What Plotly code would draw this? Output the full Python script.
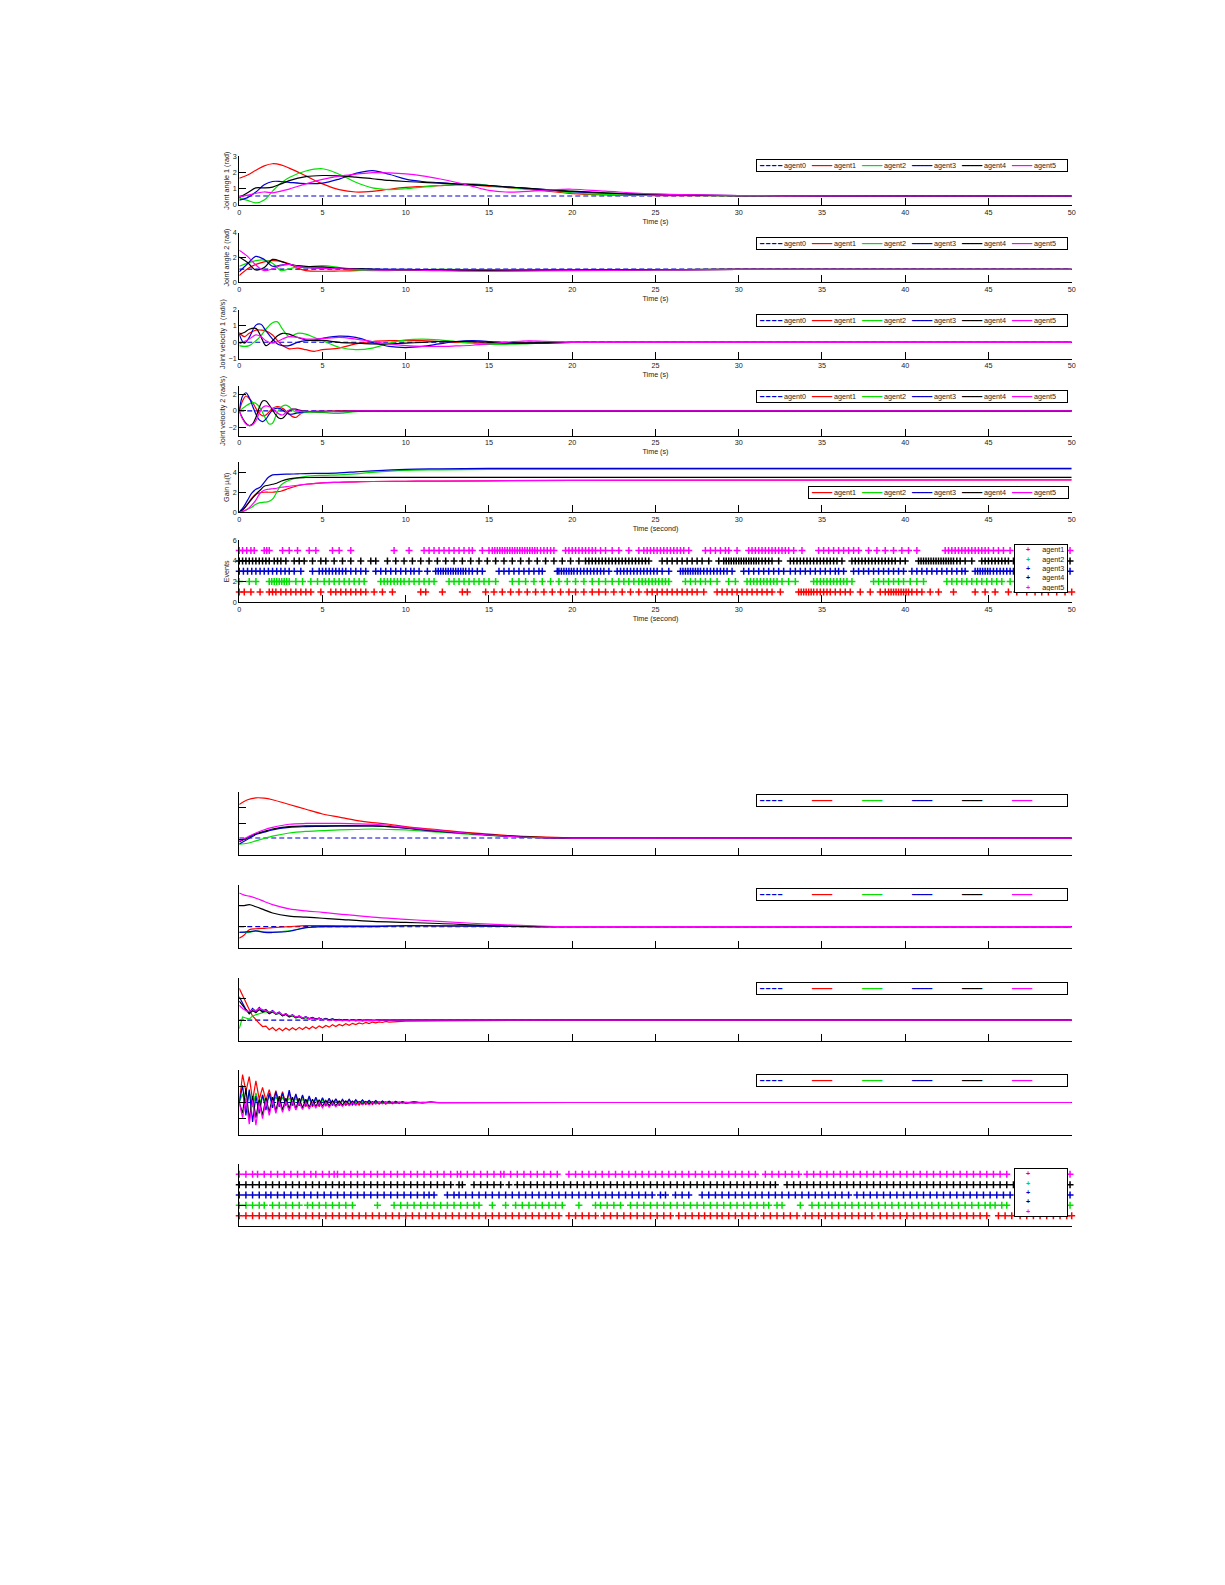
import plotly.graph_objects as go

# browser body margin is 8 px, so the figure is shrunk by that on every side
OFF = 8
W, H = 1225 - 2 * OFF, 1585 - 2 * OFF

agents = ['agent0', 'agent1', 'agent2', 'agent3', 'agent4', 'agent5']
colors = ['#0000d0', '#ff0000', '#00e000', '#0000d0', '#000000', '#ff00ff']

# ---------------- first figure block ----------------
# joint angle 1
ja1_t = [0, 0.5, 1, 1.5, 2, 2.5, 3, 4, 5, 6, 7, 8, 9, 10, 11, 12, 13, 14, 15, 16, 17, 18, 19, 20, 22, 25, 30, 35, 40, 45, 50]
ja1_a0 = 0.55
ja1_a1 = [1.65, 1.85, 2.15, 2.42, 2.55, 2.48, 2.28, 1.8, 1.3, 0.95, 0.8, 0.84, 0.97, 1.08, 1.14, 1.19, 1.24, 1.22, 1.15, 1.08, 1.0, 0.9, 0.8, 0.7, 0.62, 0.58, 0.56, 0.55, 0.55, 0.55, 0.55]
ja1_a2 = [0.4, 0.28, 0.12, 0.3, 0.85, 1.35, 1.7, 2.1, 2.24, 1.9, 1.4, 1.05, 0.95, 1.0, 1.1, 1.2, 1.28, 1.3, 1.2, 1.1, 1.0, 0.92, 0.85, 0.75, 0.65, 0.6, 0.56, 0.55, 0.55, 0.55, 0.55]
ja1_a3 = [0.3, 0.45, 0.8, 1.25, 1.45, 1.45, 1.4, 1.32, 1.35, 1.6, 1.95, 2.12, 1.9, 1.6, 1.45, 1.38, 1.3, 1.25, 1.2, 1.12, 1.05, 0.98, 0.9, 0.82, 0.72, 0.64, 0.58, 0.56, 0.55, 0.55, 0.55]
ja1_a4 = [0.45, 0.75, 1.05, 1.05, 1.1, 1.3, 1.5, 1.75, 1.82, 1.8, 1.72, 1.62, 1.52, 1.45, 1.4, 1.35, 1.3, 1.25, 1.2, 1.12, 1.05, 0.98, 0.9, 0.85, 0.75, 0.65, 0.58, 0.56, 0.55, 0.55, 0.55]
ja1_a5 = [0.5, 0.6, 0.72, 0.8, 0.75, 0.85, 0.98, 1.3, 1.58, 1.78, 1.9, 2.0, 1.98, 1.92, 1.8, 1.62, 1.4, 1.15, 0.9, 0.8, 0.82, 0.88, 0.95, 0.97, 0.85, 0.68, 0.58, 0.56, 0.55, 0.55, 0.55]

# joint angle 2
ja2_t = [0, 0.5, 1, 1.5, 2, 2.5, 3, 3.5, 4, 5, 6, 7, 8, 10, 12, 15, 20, 25, 30, 40, 50]
ja2_a0 = 1.07
ja2_a1 = [0.55, 1.1, 1.45, 1.65, 1.75, 1.7, 1.5, 1.15, 0.95, 0.9, 0.92, 0.95, 0.98, 1.0, 1.0, 1.0, 1.0, 1.02, 1.05, 1.05, 1.05]
ja2_a2 = [1.3, 1.55, 1.75, 1.8, 1.55, 0.95, 1.1, 1.25, 1.25, 1.35, 1.2, 1.0, 0.95, 1.0, 1.05, 1.02, 1.0, 1.02, 1.05, 1.05, 1.05]
ja2_a3 = [0.85, 1.5, 2.1, 1.85, 1.3, 1.4, 1.45, 1.3, 1.2, 1.15, 1.12, 1.1, 1.08, 1.05, 1.02, 1.0, 1.0, 1.02, 1.05, 1.05, 1.05]
ja2_a4 = [2.05, 1.6, 1.0, 1.2, 1.85, 1.7, 1.45, 1.35, 1.3, 1.25, 1.15, 1.1, 1.05, 1.0, 0.98, 0.95, 0.98, 1.02, 1.05, 1.05, 1.05]
ja2_a5 = [2.6, 2.1, 1.4, 0.95, 1.1, 1.35, 1.45, 1.3, 1.2, 1.12, 1.1, 1.05, 1.0, 1.0, 0.95, 0.9, 0.95, 1.0, 1.05, 1.05, 1.05]

# joint velocity 1
jv1_t = [0, 0.3, 0.6, 1, 1.3, 1.6, 2, 2.3, 2.6, 3, 3.5, 4, 4.5, 5, 6, 7, 8, 9, 10, 11, 12, 13, 14, 15, 16, 17, 18, 20, 25, 30, 50]
jv1_a0 = 0.0
jv1_a1 = [0.6, 0.35, 0.55, 0.75, 0.75, 0.7, 0.45, 0.1, -0.2, -0.4, -0.35, -0.45, -0.55, -0.45, -0.35, -0.1, 0.05, 0.1, 0.1, 0.1, 0.05, 0.0, -0.02, -0.05, -0.03, 0.0, 0.02, 0.0, 0.0, 0.0, 0.0]
jv1_a2 = [-0.2, -0.25, -0.2, 0.1, 0.4, 0.8, 1.2, 1.25, 0.8, 0.35, 0.55, 0.5, 0.3, 0.1, -0.3, -0.45, -0.35, -0.05, 0.15, 0.2, 0.15, 0.05, -0.05, -0.12, -0.12, -0.1, -0.05, 0.0, 0.0, 0.0, 0.0]
jv1_a3 = [0.5, -0.05, 0.3, 1.05, 1.1, 0.7, 0.2, -0.1, -0.2, -0.2, 0.0, 0.1, 0.15, 0.25, 0.38, 0.3, 0.0, -0.25, -0.32, -0.25, -0.1, 0.05, 0.1, 0.05, 0.0, -0.05, -0.05, 0.0, 0.0, 0.0, 0.0]
jv1_a4 = [0.5, 0.6, 0.8, 0.85, 0.35, -0.2, 0.1, 0.4, 0.55, 0.5, 0.3, 0.15, 0.1, 0.12, 0.0, -0.05, -0.1, -0.1, -0.05, 0.0, 0.05, 0.05, 0.05, 0.0, -0.05, -0.05, -0.03, 0.0, 0.0, 0.0, 0.0]
jv1_a5 = [-0.1, 0.05, 0.2, 0.45, 0.35, 0.1, -0.05, 0.05, 0.2, 0.35, 0.3, 0.2, 0.2, 0.22, 0.3, 0.2, 0.05, -0.1, -0.2, -0.25, -0.25, -0.22, -0.18, -0.1, 0.0, 0.08, 0.08, 0.0, 0.0, 0.0, 0.0]

# joint velocity 2
jv2_t = [0, 0.2, 0.4, 0.6, 0.8, 1, 1.2, 1.4, 1.6, 1.8, 2, 2.2, 2.4, 2.6, 2.8, 3, 3.2, 3.4, 3.6, 3.8, 4, 4.5, 5, 6, 7, 8, 10, 15, 50]
jv2_a0 = 0.0
jv2_a1 = [0, 1.2, 1.8, 1.5, 1.0, 0.3, -0.3, -0.6, -0.5, -0.1, 0.3, 0.5, 0.5, 0.3, 0.0, -0.4, -0.7, -0.8, -0.5, -0.2, -0.1, -0.1, -0.05, 0, 0, 0, 0, 0, 0]
jv2_a2 = [0, 0.3, 0.6, 0.85, 1.0, 0.9, 0.5, -0.2, -1.0, -1.6, -1.5, -0.6, 0.2, 0.6, 0.7, 0.5, 0.1, -0.2, -0.3, -0.25, -0.2, -0.15, -0.2, -0.3, -0.1, 0, 0, 0, 0]
jv2_a3 = [0, 1.8, 2.2, 1.6, 0.6, -0.4, -1.1, -1.3, -1.0, -0.4, 0.1, 0.3, 0.3, 0.1, -0.2, -0.4, -0.4, -0.3, -0.2, -0.15, -0.1, -0.05, -0.05, -0.1, -0.05, 0, 0, 0, 0]
jv2_a4 = [0, -0.9, -1.5, -1.8, -1.6, -0.8, 0.4, 1.2, 1.2, 0.7, 0.1, -0.5, -0.9, -0.9, -0.5, 0.0, 0.2, 0.2, 0.1, 0.0, -0.05, -0.1, -0.1, -0.05, 0, 0, 0, 0, 0]
jv2_a5 = [0, -1.0, -1.6, -1.8, -1.7, -1.2, -0.3, 0.4, 0.6, 0.5, 0.3, -0.1, -0.4, -0.5, -0.2, 0.1, 0.2, 0.1, 0.0, -0.05, -0.05, -0.05, -0.05, -0.05, 0, 0, 0, 0, 0]

# adaptive gain
gain_t = [0, 0.25, 0.5, 0.75, 1, 1.25, 1.5, 1.75, 2, 2.25, 2.5, 3, 3.5, 4, 5, 6, 7, 8, 10, 12, 15, 20, 30, 50]
gain_a1 = [0, 0.3, 0.8, 1.4, 1.8, 1.95, 2.0, 2.0, 2.0, 2.05, 2.1, 2.4, 2.65, 2.8, 2.95, 3.0, 3.05, 3.08, 3.1, 3.12, 3.15, 3.2, 3.22, 3.25]
gain_a2 = [0, 0.1, 0.3, 0.5, 0.8, 0.95, 1.0, 1.05, 1.3, 2.0, 2.7, 3.2, 3.45, 3.6, 3.7, 3.75, 3.85, 4.0, 4.2, 4.25, 4.3, 4.3, 4.32, 4.32]
gain_a3 = [0, 0.5, 1.2, 1.9, 2.3, 2.5, 3.0, 3.5, 3.75, 3.78, 3.8, 3.82, 3.85, 3.88, 3.9, 3.95, 4.05, 4.15, 4.3, 4.35, 4.4, 4.4, 4.4, 4.4]
gain_a4 = [0, 0.3, 0.8, 1.3, 1.8, 2.2, 2.6, 2.7, 2.8, 2.9, 3.1, 3.35, 3.45, 3.48, 3.5, 3.5, 3.5, 3.5, 3.5, 3.5, 3.5, 3.5, 3.5, 3.5]
gain_a5 = [0, 0.1, 0.3, 0.7, 1.2, 1.9, 2.2, 2.3, 2.35, 2.4, 2.5, 2.6, 2.7, 2.8, 2.95, 3.0, 3.05, 3.08, 3.1, 3.12, 3.15, 3.2, 3.22, 3.25]

# triggering instants (s), first block
ev_a1 = [0, 0.3, 0.7, 1.25, 1.8, 2.0, 2.2, 2.5, 2.8, 3.1, 3.4, 3.7, 4.0, 4.3, 4.9, 5.5, 5.8, 6.1, 6.4, 6.7, 7.0, 7.3, 7.6, 8.1, 8.6, 9.2,
         10.9, 11.2, 12.2, 13.4, 13.7, 14.8, 15.3, 15.8, 16.3, 16.8, 17.3, 17.8, 18.3, 18.8, 19.3, 19.8, 20.2, 20.7, 21.2, 21.6, 22.0,
         22.5, 23.0, 23.5, 24.0, 24.5, 24.8, 25.1, 25.4, 25.7, 26.0, 26.3, 26.6, 26.9, 27.2, 27.5, 27.9, 28.7, 29.0, 29.3, 29.6, 29.9,
         30.2, 30.5, 30.8, 31.1, 31.4, 31.7, 32.0, 32.5, 33.6, 33.75, 33.9, 34.05, 34.2, 34.35, 34.5, 34.7, 34.9, 35.1, 35.3, 35.5,
         35.8, 36.1, 36.4, 36.7, 37.3, 37.9, 38.5, 38.8, 39.0, 39.15, 39.3, 39.45, 39.6, 39.75, 39.9, 40.05, 40.2, 40.4, 40.7, 41.0,
         41.5, 42.0, 42.9, 44.2, 44.8, 45.4, 46.2, 46.7, 47.3, 47.8, 48.2, 48.6, 49.1, 49.6, 50.0]
ev_a2 = [0, 0.6, 1.0, 1.8, 1.95, 2.1, 2.25, 2.4, 2.55, 2.7, 2.85, 3.0, 3.4, 3.8, 4.3, 4.7, 5.1, 5.4, 5.7, 6.0, 6.3, 6.6, 6.9, 7.2,
         7.5, 8.5, 8.7, 8.9, 9.1, 9.3, 9.5, 9.7, 9.9, 10.2, 10.5, 10.8, 11.1, 11.4, 11.7, 12.6, 12.9, 13.2, 13.5, 13.8, 14.1, 14.4,
         14.7, 15.0, 15.4, 16.4, 16.8, 17.2, 17.7, 18.2, 18.7, 19.2, 19.7, 20.2, 20.7, 21.2, 21.6, 22.0, 22.4, 22.8, 23.1, 23.4, 23.7,
         24.0, 24.2, 24.4, 24.6, 24.8, 25.0, 25.2, 25.4, 25.6, 25.8, 26.8, 27.1, 27.4, 27.7, 28.0, 28.3, 28.7, 29.4, 29.8, 30.5, 30.7,
         30.9, 31.1, 31.3, 31.5, 31.7, 31.9, 32.1, 32.3, 32.6, 33.0, 33.4, 34.5, 34.7, 34.9, 35.1, 35.3, 35.5, 35.7, 35.9, 36.1, 36.3,
         36.5, 36.8, 38.1, 38.4, 38.7, 39.0, 39.3, 39.6, 39.9, 40.3, 40.7, 41.1, 42.5, 42.8, 43.1, 43.4, 43.7, 44.0, 44.3, 44.6, 44.9,
         45.2, 45.5, 45.8, 46.3, 46.7]
ev_a3 = [0, 0.25, 0.5, 0.75, 1.0, 1.25, 1.5, 1.75, 2.0, 2.25, 2.5, 2.75, 3.0, 3.3, 3.7, 4.4, 4.8, 5.0, 5.2, 5.4, 5.6, 5.8, 6.0, 6.2,
         6.4, 6.7, 7.0, 7.3, 7.6, 8.2, 8.5, 8.8, 9.1, 9.4, 9.7, 10.0, 10.3, 10.5, 10.8, 11.3, 11.8, 11.95, 12.1, 12.25, 12.4, 12.55,
         12.7, 12.85, 13.0, 13.15, 13.3, 13.45, 13.6, 13.8, 14.0, 14.3, 14.6, 15.6, 15.9, 16.2, 16.5, 16.8, 17.1, 17.4, 17.7, 18.0,
         18.2, 19.1, 19.2, 19.35, 19.5, 19.65, 19.8, 19.95, 20.1, 20.3, 20.5, 20.7, 20.9, 21.1, 21.3, 21.5, 21.7, 21.9, 22.2, 22.7,
         22.9, 23.1, 23.3, 23.5, 23.7, 23.9, 24.1, 24.3, 24.5, 24.7, 24.9, 25.1, 25.4, 25.8, 26.5, 26.65, 26.8, 26.95, 27.1, 27.25,
         27.4, 27.55, 27.7, 27.9, 28.1, 28.3, 28.5, 28.7, 28.9, 29.1, 29.3, 29.6, 30.3, 30.6, 30.9, 31.2, 31.5, 31.8, 32.1, 32.4,
         32.7, 33.1, 33.4, 33.7, 34.0, 34.3, 34.6, 34.9, 35.2, 35.5, 35.8, 36.0, 36.3, 36.9, 37.2, 37.5, 37.8, 38.1, 38.4, 38.7,
         39.0, 39.3, 39.6, 39.9, 40.4, 40.7, 41.0, 41.3, 41.6, 41.9, 42.2, 42.5, 42.8, 43.1, 43.4, 43.6, 44.2, 44.35, 44.5, 44.65,
         44.8, 44.95, 45.1, 45.3, 45.5, 45.7, 45.9, 46.1, 46.3, 46.5, 49.9]
ev_a4 = [0, 0.2, 0.4, 0.6, 0.8, 1.0, 1.2, 1.4, 1.6, 1.8, 2.1, 2.3, 2.5, 2.8, 3.3, 3.6, 3.9, 4.4, 4.9, 5.2, 5.7, 6.2, 6.7, 7.3,
         7.9, 8.2, 8.9, 9.4, 9.9, 10.4, 10.9, 11.4, 11.9, 12.4, 12.9, 13.4, 13.9, 14.4, 14.9, 15.4, 15.9, 16.4, 16.9, 17.4, 17.9,
         18.4, 18.9, 19.4, 19.9, 20.4, 20.8, 21.0, 21.2, 21.4, 21.6, 21.8, 22.0, 22.2, 22.4, 22.6, 22.8, 23.0, 23.2, 23.4, 23.6,
         23.8, 24.0, 24.2, 24.4, 24.6, 25.4, 25.7, 26.0, 26.3, 26.6, 26.9, 27.2, 27.5, 27.8, 28.2, 28.8, 29.1, 29.25, 29.4, 29.55,
         29.7, 29.85, 30.0, 30.15, 30.3, 30.45, 30.6, 30.75, 30.9, 31.05, 31.2, 31.4, 31.6, 31.8, 32.0, 32.4, 33.1, 33.3, 33.5,
         33.7, 33.9, 34.1, 34.3, 34.5, 34.7, 34.9, 35.1, 35.3, 35.5, 35.7, 35.9, 36.2, 36.8, 37.0, 37.2, 37.4, 37.6, 37.8, 38.0,
         38.2, 38.4, 38.6, 38.8, 39.0, 39.2, 39.4, 39.7, 40.0, 40.8, 40.95, 41.1, 41.25, 41.4, 41.55, 41.7, 41.85, 42.0, 42.15,
         42.3, 42.45, 42.6, 42.75, 42.9, 43.1, 43.3, 43.6, 44.0, 44.6, 44.8, 45.0, 45.2, 45.4, 45.6, 45.8, 46.0, 46.2, 46.5, 49.9]
ev_a5 = [0, 0.2, 0.45, 0.7, 0.9, 1.5, 1.65, 1.8, 2.6, 3.0, 3.5, 4.2, 4.6, 5.6, 6.0, 6.7, 9.3, 10.2, 11.1, 11.4, 11.7, 12.0, 12.3,
         12.6, 12.9, 13.2, 13.5, 13.8, 14.0, 14.6, 15.0, 15.2, 15.35, 15.5, 15.65, 15.8, 15.95, 16.1, 16.25, 16.4, 16.55, 16.7,
         16.85, 17.0, 17.15, 17.3, 17.45, 17.6, 17.75, 17.9, 18.1, 18.3, 18.5, 18.7, 18.9, 19.6, 19.8, 20.0, 20.2, 20.4, 20.6, 20.8,
         21.0, 21.2, 21.4, 21.7, 22.0, 22.4, 22.8, 23.4, 24.0, 24.3, 24.5, 24.7, 24.9, 25.1, 25.3, 25.5, 25.7, 25.9, 26.1, 26.3,
         26.5, 26.7, 27.0, 28.0, 28.3, 28.6, 28.9, 29.2, 29.4, 29.9, 30.6, 30.8, 31.0, 31.2, 31.4, 31.6, 31.8, 32.0, 32.2, 32.4,
         32.6, 32.8, 33.0, 33.3, 33.8, 34.8, 35.1, 35.4, 35.7, 36.0, 36.3, 36.6, 36.9, 37.2, 37.8, 38.3, 38.8, 39.3, 39.8, 40.2,
         40.7, 42.4, 42.6, 42.8, 43.0, 43.2, 43.4, 43.6, 43.8, 44.0, 44.2, 44.4, 44.6, 44.8, 45.0, 45.3, 45.6, 45.9, 46.3, 49.9]

# ---------------- second figure block (no labels) ----------------
pa_t = [0, 0.5, 1, 1.5, 2, 3, 4, 5, 6, 7, 8, 9, 10, 12, 14, 16, 18, 20, 25, 30, 40, 50]
pa_a0 = 1.08
pa_a1 = [3.2, 3.5, 3.62, 3.6, 3.5, 3.2, 2.9, 2.6, 2.4, 2.2, 2.05, 1.95, 1.8, 1.6, 1.4, 1.25, 1.15, 1.1, 1.08, 1.08, 1.08, 1.08]
pa_a2 = [0.7, 0.75, 0.9, 1.05, 1.2, 1.4, 1.5, 1.55, 1.6, 1.62, 1.65, 1.62, 1.6, 1.45, 1.3, 1.2, 1.1, 1.08, 1.08, 1.08, 1.08, 1.08]
pa_a3 = [0.7, 1.0, 1.3, 1.45, 1.6, 1.75, 1.8, 1.82, 1.85, 1.85, 1.85, 1.8, 1.7, 1.5, 1.35, 1.2, 1.1, 1.08, 1.08, 1.08, 1.08, 1.08]
pa_a4 = [0.85, 1.1, 1.35, 1.5, 1.65, 1.8, 1.85, 1.85, 1.85, 1.85, 1.85, 1.8, 1.72, 1.52, 1.36, 1.22, 1.12, 1.08, 1.08, 1.08, 1.08, 1.08]
pa_a5 = [0.9, 1.15, 1.4, 1.6, 1.75, 1.95, 2.0, 2.0, 2.0, 1.98, 1.95, 1.88, 1.75, 1.55, 1.35, 1.2, 1.1, 1.08, 1.08, 1.08, 1.08, 1.08]

pb_t = [0, 0.3, 0.6, 1, 1.5, 2, 3, 4, 5, 6, 8, 10, 12, 15, 18, 20, 25, 30, 40, 50]
pb_a0 = 1.0
pb_a1 = [0.45, 0.6, 0.85, 0.9, 0.92, 0.95, 1.0, 1.05, 1.05, 1.05, 1.05, 1.05, 1.04, 1.02, 1.0, 1.0, 1.0, 1.0, 1.0, 1.0]
pb_a2 = [0.75, 0.73, 0.72, 0.8, 0.76, 0.75, 0.8, 0.95, 1.0, 1.02, 1.05, 1.05, 1.05, 1.02, 1.0, 1.0, 1.0, 1.0, 1.0, 1.0]
pb_a3 = [0.72, 0.74, 0.76, 0.8, 0.72, 0.72, 0.78, 0.95, 1.0, 1.0, 1.0, 1.05, 1.04, 1.02, 1.0, 1.0, 1.0, 1.0, 1.0, 1.0]
pb_a4 = [2.0, 2.0, 2.05, 1.95, 1.8, 1.65, 1.5, 1.45, 1.4, 1.35, 1.25, 1.2, 1.15, 1.05, 1.0, 1.0, 1.0, 1.0, 1.0, 1.0]
pb_a5 = [2.6, 2.5, 2.45, 2.35, 2.2, 2.05, 1.85, 1.75, 1.68, 1.6, 1.45, 1.35, 1.25, 1.12, 1.03, 1.0, 1.0, 1.0, 1.0, 1.0]

pc_t = [0, 0.2, 0.4, 0.6, 0.8, 1.0, 1.2, 1.4, 1.6, 1.8, 2.0, 2.2, 2.4, 2.6, 2.8, 3.0, 3.2, 3.4, 3.6, 3.8, 4.0, 4.2, 4.4, 4.6,
        4.8, 5.0, 5.2, 5.4, 5.6, 5.8, 6.0, 6.2, 6.4, 6.6, 6.8, 7.0, 7.2, 7.4, 7.6, 7.8, 8.0, 8.2, 8.4, 8.6, 8.8, 9.0,
        10, 12, 15, 20, 30, 50]
pc_a0 = 0.0
pc_a1 = [1.5, 1.15, 0.85, 0.5, 0.2, 0.0, -0.15, -0.3, -0.28, -0.45, -0.35, -0.5, -0.38, -0.5, -0.37, -0.48, -0.36, -0.46, -0.34,
         -0.44, -0.32, -0.42, -0.3, -0.39, -0.27, -0.36, -0.25, -0.33, -0.22, -0.3, -0.2, -0.27, -0.17, -0.24, -0.15, -0.21, -0.13,
         -0.18, -0.11, -0.16, -0.09, -0.13, -0.08, -0.11, -0.06, -0.09, -0.05, -0.03, -0.01, 0, 0, 0]
pc_a2 = [-0.4, 0.15, 0.1, 0.05, 0.2, 0.25, 0.3, 0.35, 0.4, 0.32, 0.38, 0.27, 0.32, 0.2, 0.26, 0.15, 0.2, 0.1, 0.15, 0.07, 0.12,
         0.05, 0.09, 0.03, 0.07, 0.01, 0.05, 0.0, 0.03, -0.01, 0.02, -0.01, 0.01, -0.01, 0.01, -0.01, 0.0, 0.0, 0.0, 0.0, 0.0, 0.0,
         0.0, 0.0, 0.0, 0.0, 0, 0, 0, 0, 0, 0]
pc_a3 = [1.1, 0.8, 0.5, 0.35, 0.55, 0.4, 0.6, 0.42, 0.5, 0.35, 0.45, 0.3, 0.38, 0.22, 0.3, 0.18, 0.26, 0.12, 0.2, 0.1, 0.16, 0.08,
         0.13, 0.05, 0.1, 0.03, 0.08, 0.02, 0.06, 0.0, 0.04, -0.01, 0.03, -0.02, 0.02, -0.02, 0.01, -0.02, 0.0, -0.02, 0.0, -0.01,
         0.0, -0.01, 0.0, -0.01, 0, 0, 0, 0, 0, 0]
pc_a4 = [0.9, 0.7, 0.45, 0.3, 0.45, 0.35, 0.5, 0.38, 0.45, 0.3, 0.4, 0.28, 0.33, 0.2, 0.28, 0.16, 0.22, 0.12, 0.18, 0.08, 0.14,
         0.06, 0.11, 0.04, 0.09, 0.02, 0.06, 0.01, 0.05, 0.0, 0.03, -0.01, 0.02, -0.02, 0.01, -0.02, 0.01, -0.02, 0.0, -0.01, 0.0,
         -0.01, 0.0, -0.01, 0.0, 0.0, 0, 0, 0, 0, 0, 0]
pc_a5 = [0.7, 0.55, 0.45, 0.4, 0.5, 0.45, 0.55, 0.5, 0.42, 0.38, 0.42, 0.3, 0.35, 0.25, 0.3, 0.2, 0.24, 0.14, 0.2, 0.1, 0.15,
         0.06, 0.1, 0.03, 0.08, 0.0, 0.05, -0.02, 0.03, -0.03, 0.01, -0.03, 0.0, -0.03, 0.0, -0.03, -0.01, -0.03, -0.01, -0.02,
         -0.01, -0.02, 0.0, -0.01, 0.0, 0.0, 0, 0, 0, 0, 0, 0]

pd_t = [0, 0.2, 0.4, 0.6, 0.8, 1.0, 1.2, 1.4, 1.6, 1.8, 2.0, 2.2, 2.4, 2.6, 2.8, 3.0, 3.2, 3.4, 3.6, 3.8, 4.0, 4.2, 4.4, 4.6,
        4.8, 5.0, 5.2, 5.4, 5.6, 5.8, 6.0, 6.2, 6.4, 6.6, 6.8, 7.0, 7.2, 7.4, 7.6, 7.8, 8.0, 8.2, 8.4, 8.6, 8.8, 9.0, 9.2, 9.4,
        9.6, 9.8, 10.0, 10.5, 11, 11.5, 12, 15, 20, 30, 50]
pd_a0 = 0.0
pd_a1 = [0, 2.6, 1.0, 2.4, 0.2, 2.0, 0.3, 1.4, 0.2, 1.2, 0.0, 1.1, 0.0, 1.0, -0.2, 0.9, -0.3, 0.7, -0.3, 0.6, -0.4, 0.5,
         -0.4, 0.4, -0.4, 0.35, -0.35, 0.3, -0.3, 0.3, -0.3, 0.25, -0.3, 0.25, -0.25, 0.2, -0.25, 0.2, -0.2, 0.15, -0.2, 0.15,
         -0.15, 0.12, -0.15, 0.1, -0.12, 0.1, -0.1, 0.08, -0.08, 0.06, -0.06, 0.04, -0.03, 0, 0, 0, 0]
pd_a2 = [0, 0.8, -0.6, 1.0, -0.4, 0.9, -0.2, 0.7, -0.1, 0.6, -0.1, 0.5, 0.0, 0.45, -0.05, 0.4, -0.05, 0.35, -0.05, 0.3, -0.05,
         0.25, -0.05, 0.2, -0.05, 0.18, -0.05, 0.15, -0.05, 0.12, -0.04, 0.1, -0.03, 0.08, -0.03, 0.06, -0.02, 0.05, -0.02, 0.04,
         -0.01, 0.03, -0.01, 0.02, 0.0, 0.02, 0.0, 0.01, 0.0, 0.01, 0.0, 0, 0, 0, 0, 0, 0, 0, 0]
pd_a3 = [0, 1.6, -1.2, 1.2, -1.8, 0.6, -1.0, 0.7, -0.7, 0.9, -0.5, 1.0, -0.4, 0.9, -0.3, 1.15, -0.2, 0.8, -0.3, 0.7, -0.3, 0.6,
         -0.3, 0.5, -0.25, 0.45, -0.2, 0.4, -0.2, 0.35, -0.2, 0.3, -0.15, 0.3, -0.15, 0.25, -0.1, 0.25, -0.1, 0.2, -0.1, 0.18,
         -0.08, 0.15, -0.06, 0.12, -0.05, 0.1, -0.04, 0.08, -0.03, 0.06, -0.02, 0.04, 0.0, 0, 0, 0, 0]
pd_a4 = [0, -1.0, 1.3, -1.6, 0.6, -1.4, 0.3, -1.2, 0.4, -0.9, 0.5, -0.8, 0.6, -0.7, 0.4, -0.6, 0.5, -0.6, 0.4, -0.5, 0.3,
         -0.45, 0.3, -0.4, 0.25, -0.35, 0.2, -0.3, 0.2, -0.3, 0.15, -0.25, 0.15, -0.2, 0.12, -0.2, 0.1, -0.15, 0.1, -0.12, 0.08,
         -0.1, 0.06, -0.08, 0.05, -0.07, 0.04, -0.05, 0.03, -0.04, 0.02, -0.03, 0.02, -0.02, 0, 0, 0, 0, 0]
pd_a5 = [0, -1.4, 0.4, -2.0, 0.2, -2.1, 0.0, -1.5, 0.2, -1.2, 0.2, -1.0, 0.1, -0.9, 0.1, -0.8, 0.1, -0.7, 0.0, -0.65, 0.0,
         -0.6, 0.0, -0.5, 0.0, -0.5, 0.0, -0.45, -0.05, -0.4, -0.05, -0.35, 0.0, -0.3, 0.0, -0.25, 0.0, -0.22, 0.0, -0.2, 0.0,
         -0.15, 0.0, -0.12, 0.0, -0.1, 0.0, -0.08, 0.0, -0.06, 0.0, -0.04, 0.0, -0.02, 0, 0, 0, 0, 0]

evb_a1 = [0, 0.4, 0.8, 1.2, 1.6, 2.0, 2.4, 2.8, 3.2, 3.6, 4.0, 4.4, 4.8, 5.2, 5.6, 6.0, 6.4, 6.8, 7.2, 7.6, 8.0, 8.4, 8.8, 9.2,
          9.6, 10.0, 10.4, 10.8, 11.2, 11.6, 12.0, 12.4, 12.8, 13.2, 13.6, 14.0, 14.4, 14.8, 15.2, 15.6, 16.0, 16.4, 16.8, 17.2,
          17.6, 18.0, 18.4, 18.8, 19.2, 19.8, 20.2, 20.6, 21.0, 21.4, 21.9, 22.3, 22.7, 23.1, 23.5, 23.9, 24.3, 24.7, 25.1, 25.5,
          25.9, 26.4, 26.8, 27.2, 27.6, 27.95, 28.3, 28.7, 29.0, 29.4, 29.8, 30.2, 30.6, 31.0, 31.5, 31.9, 32.3, 32.7, 33.1, 33.5,
          34.0, 34.4, 34.8, 35.2, 35.6, 36.0, 36.4, 36.8, 37.2, 37.6, 38.0, 38.5, 38.9, 39.3, 39.7, 40.1, 40.5, 40.9, 41.3, 41.7,
          42.1, 42.5, 42.9, 43.3, 43.7, 44.1, 44.5, 44.9, 45.6, 46.0, 46.4, 46.9, 47.3, 47.7, 48.1, 48.5, 48.9, 49.3, 49.7, 50.0]
evb_a2 = [0, 0.4, 0.8, 1.2, 1.5, 2.0, 2.4, 2.8, 3.2, 3.6, 4.1, 4.4, 4.8, 5.2, 5.6, 6.0, 6.4, 6.8, 8.3, 9.3, 9.7, 10.1, 10.5,
          10.9, 11.3, 11.7, 12.1, 12.5, 12.9, 13.3, 13.7, 14.1, 14.4, 15.2, 16.0, 16.6, 17.0, 17.4, 17.8, 18.2, 18.6, 19.0, 19.4,
          20.4, 21.4, 21.7, 22.1, 22.5, 22.9, 23.5, 23.9, 24.3, 24.7, 25.1, 25.5, 25.9, 26.3, 26.7, 27.1, 27.5, 27.9, 28.3, 28.7,
          29.1, 29.5, 29.9, 30.3, 30.7, 31.1, 31.5, 31.8, 32.3, 32.6, 33.7, 34.4, 34.8, 35.2, 35.6, 36.0, 36.4, 36.8, 37.2, 37.6,
          38.0, 38.4, 38.8, 39.2, 39.6, 40.0, 40.4, 40.8, 41.2, 41.6, 42.0, 42.4, 42.8, 43.2, 43.6, 44.0, 44.4, 44.8, 45.1, 45.4,
          45.8, 46.1, 49.9]
evb_a3 = [0, 0.4, 0.8, 1.2, 1.6, 1.9, 2.3, 2.7, 3.1, 3.5, 3.9, 4.3, 4.7, 5.1, 5.5, 5.9, 6.3, 6.7, 7.1, 7.5, 7.9, 8.3, 8.7, 9.1,
          9.5, 9.9, 10.3, 10.7, 11.1, 11.4, 11.7, 12.5, 12.9, 13.2, 13.6, 14.0, 14.4, 14.8, 15.2, 15.6, 16.0, 16.4, 16.8, 17.2,
          17.6, 18.0, 18.4, 18.8, 19.2, 19.6, 20.0, 20.4, 20.8, 21.2, 21.6, 22.0, 22.4, 22.8, 23.2, 23.6, 24.0, 24.4, 24.8, 25.3,
          25.6, 26.2, 26.6, 27.0, 27.8, 28.2, 28.6, 29.0, 29.4, 29.8, 30.2, 30.6, 31.0, 31.4, 31.8, 32.2, 32.6, 33.0, 33.4, 33.8,
          34.2, 34.6, 35.0, 35.4, 35.8, 36.2, 36.6, 37.1, 37.5, 37.9, 38.3, 38.7, 39.1, 39.5, 39.9, 40.3, 40.7, 41.1, 41.5, 41.9,
          42.3, 42.7, 43.1, 43.5, 43.9, 44.3, 44.7, 45.1, 45.5, 45.9, 46.3, 49.9]
evb_a4 = [0, 0.4, 0.8, 1.2, 1.6, 2.0, 2.4, 2.8, 3.2, 3.6, 4.0, 4.4, 4.8, 5.2, 5.6, 6.0, 6.3, 6.7, 7.1, 7.5, 7.9, 8.3, 8.7, 9.1,
          9.5, 9.9, 10.3, 10.7, 11.1, 11.5, 11.9, 12.3, 12.7, 13.2, 13.4, 14.1, 14.5, 14.9, 15.3, 15.7, 16.2, 16.7, 17.1, 17.5,
          17.9, 18.3, 18.7, 19.1, 19.5, 19.9, 20.3, 20.7, 21.1, 21.5, 21.9, 22.3, 22.7, 23.1, 23.5, 23.9, 24.3, 24.7, 25.1, 25.5,
          25.9, 26.3, 26.7, 27.1, 27.5, 27.9, 28.3, 28.7, 29.1, 29.5, 29.9, 30.3, 30.7, 31.1, 31.5, 31.9, 32.2, 32.9, 33.3, 33.7,
          34.1, 34.5, 34.9, 35.3, 35.7, 36.1, 36.5, 36.9, 37.3, 37.7, 38.1, 38.5, 38.9, 39.3, 39.7, 40.1, 40.5, 40.9, 41.3, 41.7,
          42.1, 42.5, 42.9, 43.3, 43.7, 44.1, 44.5, 44.9, 45.3, 45.7, 46.1, 46.5, 49.9]
evb_a5 = [0, 0.4, 0.8, 1.1, 1.5, 1.9, 2.3, 2.7, 3.1, 3.5, 3.9, 4.3, 4.6, 5.0, 5.4, 5.7, 5.9, 6.3, 6.7, 7.1, 7.5, 7.9, 8.3, 8.7,
          9.1, 9.5, 9.9, 10.3, 10.7, 11.1, 11.5, 11.9, 12.3, 12.7, 13.1, 13.3, 13.7, 14.1, 14.5, 14.9, 15.3, 15.7, 15.9, 16.3,
          16.7, 17.1, 17.5, 17.9, 18.3, 18.7, 19.1, 19.8, 20.2, 20.6, 21.0, 21.4, 21.8, 22.2, 22.6, 23.0, 23.4, 23.8, 24.2, 24.6,
          25.0, 25.4, 25.8, 26.2, 26.6, 27.0, 27.4, 27.8, 28.2, 28.6, 29.0, 29.4, 29.8, 30.2, 30.6, 31.0, 31.6, 32.0, 32.4, 32.8,
          33.2, 33.6, 34.1, 34.5, 34.9, 35.3, 35.7, 36.1, 36.5, 36.9, 37.3, 37.7, 38.1, 38.5, 38.9, 39.3, 39.7, 40.1, 40.5, 40.9,
          41.3, 41.7, 42.1, 42.5, 42.9, 43.3, 43.7, 44.1, 44.5, 44.9, 45.3, 45.7, 46.1, 49.9]

x_ticks = [0, 5, 10, 15, 20, 25, 30, 35, 40, 45, 50]

FONT = 'Liberation Sans, Arial, sans-serif'
FS = 7.2
NB = '\u00a0'


def px_x(p):
    return (p - OFF) / W


def px_y(p):
    return 1 - (p - OFF) / H


# panel boxes in page pixels: (top, bottom)
boxes = [(153.3, 202), (230, 280), (307.3, 356.7), (384.3, 434), (461, 511), (539.3, 601.7),
         (792.3, 856), (885.7, 949), (979.3, 1043.3), (1072.3, 1137.3), (1166.7, 1229)]
X0, X1 = 238.4, 1075

fig = go.Figure()


def axname(i):
    return '' if i == 1 else str(i)


def add_curves(i, t, a0, series, shape='spline'):
    ax = axname(i)
    if a0 is not None:
        fig.add_trace(go.Scatter(x=[t[0], t[-1]], y=[a0, a0], mode='lines', xaxis='x' + ax, yaxis='y' + ax,
                                 line=dict(color=colors[0], width=1.1, dash='5px,3px'), showlegend=False))
    for k, ys in enumerate(series):
        fig.add_trace(go.Scatter(x=t, y=ys, mode='lines', xaxis='x' + ax, yaxis='y' + ax,
                                 line=dict(color=colors[k + 1], width=1.2, shape=shape), showlegend=False))


def add_events(i, evs, size):
    ax = axname(i)
    for k, ev in enumerate(evs):
        fig.add_trace(go.Scatter(x=ev, y=[k + 1] * len(ev), mode='markers', xaxis='x' + ax, yaxis='y' + ax,
                                 marker=dict(symbol='cross-thin', size=size, line=dict(width=1.5, color=colors[k + 1])),
                                 showlegend=False, cliponaxis=False))


add_curves(1, ja1_t, ja1_a0, [ja1_a1, ja1_a2, ja1_a3, ja1_a4, ja1_a5])
add_curves(2, ja2_t, ja2_a0, [ja2_a1, ja2_a2, ja2_a3, ja2_a4, ja2_a5])
add_curves(3, jv1_t, jv1_a0, [jv1_a1, jv1_a2, jv1_a3, jv1_a4, jv1_a5])
add_curves(4, jv2_t, jv2_a0, [jv2_a1, jv2_a2, jv2_a3, jv2_a4, jv2_a5])
add_curves(5, gain_t, None, [gain_a1, gain_a2, gain_a3, gain_a4, gain_a5])
add_events(6, [ev_a1, ev_a2, ev_a3, ev_a4, ev_a5], 5)
add_curves(7, pa_t, pa_a0, [pa_a1, pa_a2, pa_a3, pa_a4, pa_a5])
add_curves(8, pb_t, pb_a0, [pb_a1, pb_a2, pb_a3, pb_a4, pb_a5])
add_curves(9, pc_t, pc_a0, [pc_a1, pc_a2, pc_a3, pc_a4, pc_a5], shape='linear')
add_curves(10, pd_t, pd_a0, [pd_a1, pd_a2, pd_a3, pd_a4, pd_a5], shape='linear')
add_events(11, [evb_a1, evb_a2, evb_a3, evb_a4, evb_a5], 5)

# y axis settings per panel: range, ticks, y title, x title
yset = [
    ([0, 3], [0, 1, 2, 3], 'Joint angle 1 (rad)', 'Time (s)'),
    ([0, 4], [0, 2, 4], 'Joint angle 2 (rad)', 'Time (s)'),
    ([-1, 2], [-1, 0, 1, 2], 'Joint velocity 1 (rad/s)', 'Time (s)'),
    ([-3, 3], [-2, 0, 2], 'Joint velocity 2 (rad/s)', 'Time (s)'),
    ([0, 5], [0, 2, 4], 'Gain μ<sub>i</sub>(t)', 'Time (second)'),
    ([0, 6], [0, 2, 4, 6], 'Events', 'Time (second)'),
    ([0, 4], [0, 1, 2, 3, 4], None, None),
    ([0, 3], [0, 1, 2, 3], None, None),
    ([-1, 2], [-1, 0, 1, 2], None, None),
    ([-3, 3], [-3, -1.5, 0, 1.5, 3], None, None),
    ([0, 6], [0, 2, 4, 6], None, None),
]

axis_common = dict(showline=True, linecolor='black', linewidth=1, ticks='inside', ticklen=7, tickwidth=1,
                   tickcolor='black', showgrid=False, zeroline=False, mirror=False,
                   tickfont=dict(family=FONT, size=FS, color='#222'))
title_font = dict(family=FONT, size=FS, color='#222')

for i, ((top, bot), (yr, yt, ytitle, xtitle)) in enumerate(zip(boxes, yset), start=1):
    ax = axname(i)
    labels = i <= 6
    xa = dict(axis_common, domain=[px_x(X0), px_x(X1)], range=[0, 50], tickvals=x_ticks,
              anchor='y' + ax, showticklabels=labels)
    ya = dict(axis_common, domain=[px_y(bot), px_y(top)], range=yr, tickvals=yt,
              anchor='x' + ax, showticklabels=labels)
    if xtitle:
        xa['title'] = dict(text=xtitle, font=title_font, standoff=2)
    if ytitle:
        ya['title'] = dict(text=ytitle, font=title_font, standoff=2)
    fig.layout['xaxis' + ax] = xa
    fig.layout['yaxis' + ax] = ya


# legends drawn as boxed annotations (compact, like the original);
# the line samples are box-drawing glyphs so they sit mid-height and join up
SOLID = '━' * 5
DASHED = ('━' + NB) * 3 + '━'


def line_legend(first, names):
    parts = []
    for k in range(first, 6):
        s = DASHED if k == 0 else SOLID
        label = names[k] if names else NB * 11
        parts.append(f"<span style='color:{colors[k]}'>{s}</span>{NB}{label}")
    return NB + (NB * 3).join(parts)


def event_legend(names):
    rows = []
    for k in range(5):
        label = names[k + 1] if names else NB * 11
        rows.append(f"{NB * 5}<span style='color:{colors[k + 1]}'><b>+</b></span>{NB * 6}{label}")
    return '<br>'.join(rows)


def add_box(text, right, top, width, height):
    fig.add_annotation(x=px_x(right), y=px_y(top), xref='paper', yref='paper', xanchor='right', yanchor='top',
                       text=text, showarrow=False, align='left', valign='middle',
                       font=dict(family=FONT, size=FS, color='#222'), bgcolor='white', bordercolor='black',
                       borderwidth=1, borderpad=1, width=width, height=height)


for ytop, named in [(156, True), (234.3, True), (311.3, True), (388, True),
                    (795, False), (889, False), (983.3, False), (1076, False)]:
    add_box(line_legend(0, agents if named else None), 1071.5, ytop, 308, 9)

add_box(line_legend(1, agents), 1072.5, 484.3, 257, 9)
add_box(event_legend(agents), 1071.7, 542.7, 50, 45)
add_box(event_legend(None), 1071.7, 1170.7, 50, 45)

fig.update_layout(width=W, height=H, margin=dict(l=0, r=0, t=0, b=0), plot_bgcolor='white',
                  paper_bgcolor='white', showlegend=False, font=dict(family=FONT, size=FS))

fig.write_html("out.html")
